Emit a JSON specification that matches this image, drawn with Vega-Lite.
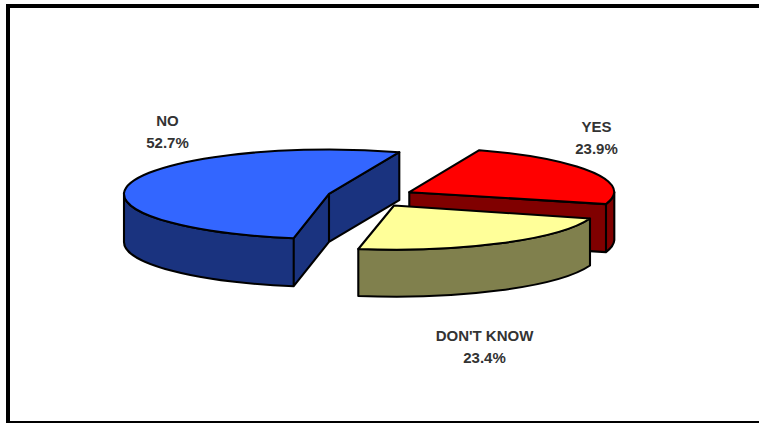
{"$schema":"https://vega.github.io/schema/vega-lite/v6.json","autosize":"none","padding":{"left":8,"top":6,"right":0,"bottom":0},"width":753,"height":417,"background":"white","view":{"stroke":"black","strokeWidth":4,"fill":"white"},"resolve":{"scale":{"fill":"independent","shape":"independent"}},"data":{"values":[{"slice":"NO","share":52.7,"label":"NO\n52.7%"},{"slice":"YES","share":23.9,"label":"YES\n23.9%"},{"slice":"DON'T KNOW","share":23.4,"label":"DON'T KNOW\n23.4%"}]},"layer":[{"mark":{"type":"point","filled":true,"opacity":1,"size":640000,"stroke":"black","strokeWidth":2.1,"strokeJoin":"round"},"encoding":{"fill":{"field":"slice","type":"nominal","legend":null,"scale":{"domain":["NO","YES","DON'T KNOW"],"range":["#1A337F","#800000","#80804D"]}},"shape":{"field":"slice","type":"nominal","legend":null,"scale":{"domain":["NO","YES","DON'T KNOW"],"range":["M-.65125 -.05325A.5125 .1125 0 0 0 -.227 .05925L-.227 .17925A.5125 .1125 0 0 1 -.65125 .06675ZM-.227 .05925L-.13875 -.05175L-.13875 .06825L-.227 .17925ZM-.13875 -.05175L.037 -.15575L.037 -.03575L-.13875 .06825Z","M.062 -.05575L.55375 -.026L.55375 .094L.062 .06425ZM.55375 -.026A.5125 .1125 0 0 0 .5745 -.05575L.5745 .06425A.5125 .1125 0 0 1 .55375 .094Z","M-.0655 .08625A.5125 .1125 0 0 0 .51375 .01L.51375 .1275A.5125 .1125 0 0 1 -.0655 .20375Z"]}}}},{"mark":{"type":"point","filled":true,"opacity":1,"size":640000,"stroke":"black","strokeWidth":2.1,"strokeJoin":"round"},"encoding":{"fill":{"field":"slice","type":"nominal","legend":null,"scale":{"domain":["NO","YES","DON'T KNOW"],"range":["#3366FF","#FF0000","#FFFF99"]}},"shape":{"field":"slice","type":"nominal","legend":null,"scale":{"domain":["NO","YES","DON'T KNOW"],"range":["M.037 -.15575A.5125 .1125 0 0 0 -.65125 -.05325A.5125 .1125 0 0 0 -.227 .05925L-.13875 -.05175Z","M.062 -.05575L.237 -.16075A.5125 .1125 0 0 1 .5745 -.05575A.5125 .1125 0 0 1 .55375 -.026Z","M.02375 -.0225L-.0655 .08625A.5125 .1125 0 0 0 .51375 .01Z"]}}}},{"transform":[{"filter":"datum.slice === 'NO'"}],"mark":{"type":"text","font":"Liberation Sans","fontWeight":"bold","fontSize":15,"color":"#333333","lineBreak":"\n","lineHeight":22,"dx":-217,"dy":-94},"encoding":{"text":{"field":"label","type":"nominal"}}},{"transform":[{"filter":"datum.slice === 'YES'"}],"mark":{"type":"text","font":"Liberation Sans","fontWeight":"bold","fontSize":15,"color":"#333333","lineBreak":"\n","lineHeight":22,"dx":212,"dy":-88},"encoding":{"text":{"field":"label","type":"nominal"}}},{"transform":[{"filter":"datum.slice === \"DON'T KNOW\""}],"mark":{"type":"text","font":"Liberation Sans","fontWeight":"bold","fontSize":15,"color":"#333333","lineBreak":"\n","lineHeight":22,"dx":100,"dy":121},"encoding":{"text":{"field":"label","type":"nominal"}}}]}
